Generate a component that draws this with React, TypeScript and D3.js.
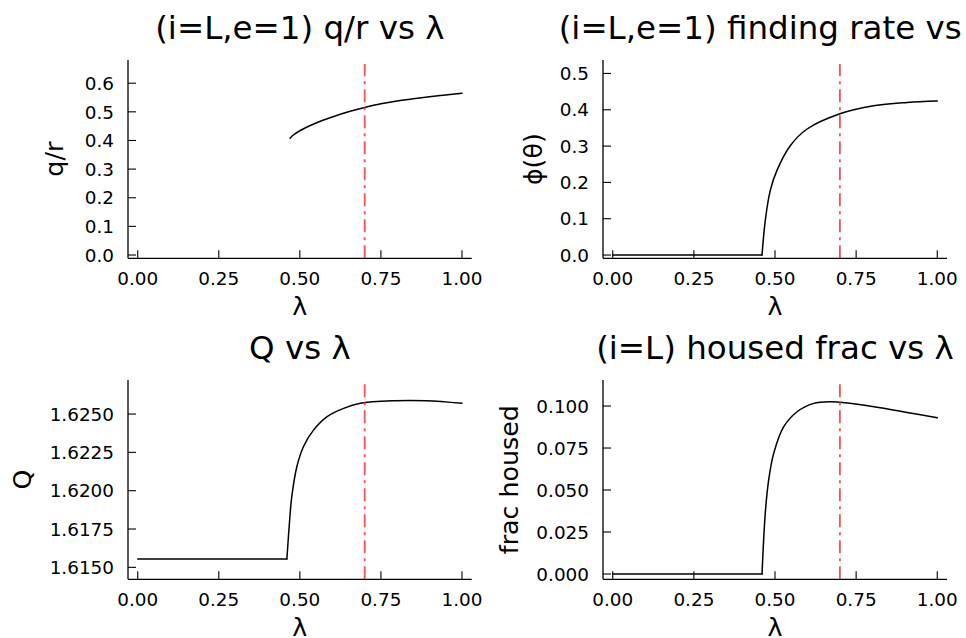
import React from "react";
import * as d3 from "d3";

// ---------- data ----------
const titles = [
  "(i=L,e=1) q/r vs λ",
  "(i=L,e=1) finding rate vs λ",
  "Q vs λ",
  "(i=L) housed frac vs λ",
];
const yLabels = ["q/r", "ϕ(θ)", "Q", "frac housed"];
const xLabel = "λ";
const xTicks = [0, 0.25, 0.5, 0.75, 1.0];
const vlineAt = 0.7;

const lambdaQR = [0.47, 0.48, 0.5, 0.55, 0.6, 0.65, 0.7, 0.75, 0.8, 0.85, 0.9, 0.95, 1.0];
const qrValues = [0.408, 0.419, 0.434, 0.461, 0.482, 0.5, 0.515, 0.528, 0.538, 0.546, 0.553, 0.559, 0.565];
const qrTicks = [0, 0.1, 0.2, 0.3, 0.4, 0.5, 0.6];

const lambdaPhi = [0, 0.46, 0.47, 0.4855, 0.506, 0.547, 0.599, 0.7, 0.804, 0.907, 1.0];
const phiValues = [0, 0, 0.095, 0.178, 0.233, 0.301, 0.347, 0.389, 0.411, 0.42, 0.424];
const phiTicks = [0, 0.1, 0.2, 0.3, 0.4, 0.5];

const lambdaQ = [0, 0.46, 0.47, 0.475, 0.4907, 0.511, 0.542, 0.583, 0.635, 0.686, 0.79, 0.89, 1.0];
const qValues = [1.61554, 1.61554, 1.6185, 1.6196, 1.62156, 1.62287, 1.62395, 1.62482, 1.62537, 1.6257, 1.62587, 1.62587, 1.6257];
const qTicks = [1.615, 1.6175, 1.62, 1.6225, 1.625];

const lambdaH = [0, 0.46, 0.47, 0.4805, 0.496, 0.527, 0.568, 0.619, 0.67, 0.7, 0.805, 0.907, 1.0];
const hValues = [0, 0, 0.0361, 0.056, 0.0718, 0.0877, 0.0966, 0.1016, 0.1026, 0.1022, 0.0996, 0.0962, 0.093];
const hTicks = [0, 0.025, 0.05, 0.075, 0.1];

// ---------- layout ----------
const FONT = "DejaVu Sans";
const TICK_FS = 18.4;
const GUIDE_FS = 25.3;
const TITLE_FS = 32.5;

const xDomain: [number, number] = [-0.03, 1.03];

const panels = [
  { xs: lambdaQR, ys: qrValues, yTicks: qrTicks, fmt: ".1f", yDomain: [-0.0115, 0.681], left: 128, right: 471.7, top: 60, bottom: 258.3, yLabelOff: 65, titleY: 39 },
  { xs: lambdaPhi, ys: phiValues, yTicks: phiTicks, fmt: ".1f", yDomain: [-0.009, 0.537], left: 603, right: 947, top: 60, bottom: 258.3, yLabelOff: 61.5, titleY: 39 },
  { xs: lambdaQ, ys: qValues, yTicks: qTicks, fmt: ".4f", yDomain: [1.61422, 1.62722], left: 128, right: 471.7, top: 380, bottom: 579.3, yLabelOff: 97, titleY: 359 },
  { xs: lambdaH, ys: hValues, yTicks: hTicks, fmt: ".3f", yDomain: [-0.00315, 0.1155], left: 603, right: 947, top: 380, bottom: 579.3, yLabelOff: 85, titleY: 359 },
];

function Panel({ p, i }: { p: any; i: number }) {
  const x = d3.scaleLinear().domain(xDomain).range([p.left, p.right]);
  const y = d3.scaleLinear().domain(p.yDomain).range([p.bottom, p.top]);
  const fmtY = d3.format(p.fmt);
  const fmtX = d3.format(".2f");
  const pts = p.xs.map((v: number, k: number) => [v, p.ys[k]] as [number, number]);
  // split flat plateau from the rising part so the knee stays sharp
  let knee = 0;
  while (knee + 1 < pts.length && pts[knee + 1][1] === pts[0][1]) knee++;
  const segments: [number, number][][] =
    knee > 0 ? [pts.slice(0, knee + 1), pts.slice(knee)] : [pts];
  const line = d3
    .line<[number, number]>()
    .x((d) => x(d[0]))
    .y((d) => y(d[1]))
    .curve(d3.curveCatmullRom.alpha(0.5));
  const cx = (p.left + p.right) / 2;
  const cy = (p.top + p.bottom) / 2;
  const tickLen = 8;
  return (
    <g>
      <text x={cx} y={p.titleY} textAnchor="middle" fontFamily={FONT} fontSize={TITLE_FS} fill="#000">
        {titles[i]}
      </text>
      {segments.map((s, k) => (
        <path key={k} d={line(s) || ""} fill="none" stroke="#000" strokeWidth={1.5} strokeLinejoin="round" strokeLinecap="round" />
      ))}
      <line
        x1={x(vlineAt)}
        x2={x(vlineAt)}
        y1={p.bottom}
        y2={p.top + 4}
        stroke="#ff3030"
        strokeOpacity={0.85}
        strokeWidth={1.8}
        strokeDasharray="13 5 3 5"
      />
      <line x1={p.left} x2={p.right} y1={p.bottom} y2={p.bottom} stroke="#000" strokeWidth={1.3} />
      <line x1={p.left} x2={p.left} y1={p.bottom} y2={p.top} stroke="#000" strokeWidth={1.3} />
      {xTicks.map((t) => (
        <g key={"x" + t}>
          <line x1={x(t)} x2={x(t)} y1={p.bottom} y2={p.bottom - tickLen} stroke="#000" strokeWidth={1.1} />
          <text x={x(t)} y={p.bottom + 26.7} textAnchor="middle" fontFamily={FONT} fontSize={TICK_FS} fill="#000">
            {fmtX(t)}
          </text>
        </g>
      ))}
      {p.yTicks.map((t: number) => (
        <g key={"y" + t}>
          <line x1={p.left} x2={p.left + tickLen} y1={y(t)} y2={y(t)} stroke="#000" strokeWidth={1.1} />
          <text x={p.left - 14} y={y(t) + 6.7} textAnchor="end" fontFamily={FONT} fontSize={TICK_FS} fill="#000">
            {fmtY(t)}
          </text>
        </g>
      ))}
      <text x={cx} y={p.bottom + 56.7} textAnchor="middle" fontFamily={FONT} fontSize={GUIDE_FS} fill="#000">
        {xLabel}
      </text>
      <text
        transform={`translate(${p.left - p.yLabelOff},${cy}) rotate(-90)`}
        textAnchor="middle"
        fontFamily={FONT}
        fontSize={GUIDE_FS}
        fill="#000"
      >
        {yLabels[i]}
      </text>
    </g>
  );
}

export default function App() {
  return (
    <div style={{ position: "fixed", left: 0, top: 0 }}>
      <svg width={966} height={638} viewBox="0 0 966 638" style={{ display: "block", background: "#fff" }}>
        <rect x={0} y={0} width={966} height={638} fill="#fff" />
        {panels.map((p, i) => (
          <Panel key={i} p={p} i={i} />
        ))}
      </svg>
    </div>
  );
}
